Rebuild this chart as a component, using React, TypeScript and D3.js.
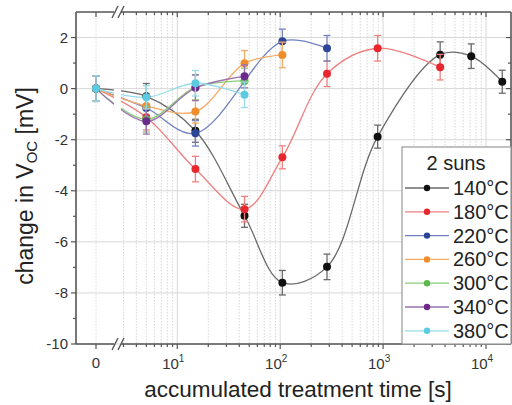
import React from "react";
import * as d3 from "d3";

// ---------- data ----------
const seriesNames = ["140°C", "180°C", "220°C", "260°C", "300°C", "340°C", "380°C"];
const markerColors = ["#111111", "#e8262e", "#2d4596", "#f08c2a", "#5cb84a", "#6b2a8c", "#5ccbe0"];
const lineColors = ["#6a6a6a", "#f07f7f", "#7080c0", "#f5aa66", "#88cc77", "#9a72b2", "#95dcea"];

const times140 = [0, 5, 15, 45, 105, 285, 885, 3585, 7185, 14385];
const vals140 = [0, -0.3, -1.65, -4.98, -7.6, -6.98, -1.88, 1.33, 1.27, 0.27];
const err140 = [0.5, 0.5, 0.45, 0.45, 0.48, 0.5, 0.45, 0.5, 0.48, 0.45];

const times180 = [0, 5, 15, 45, 105, 285, 885, 3585];
const vals180 = [0, -1.12, -3.15, -4.72, -2.69, 0.58, 1.58, 0.84];
const err180 = [0.5, 0.5, 0.5, 0.5, 0.45, 0.5, 0.5, 0.5];

const times220 = [0, 5, 15, 105, 285];
const vals220 = [0, -0.76, -1.75, 1.85, 1.58];
const err220 = [0.5, 0.45, 0.5, 0.48, 0.5];

const times260 = [0, 5, 15, 45, 105];
const vals260 = [0, -0.68, -0.9, 0.99, 1.32];
const err260 = [0.5, 0.45, 0.45, 0.5, 0.5];

const times300 = [0, 5, 15, 45];
const vals300 = [0, -1.2, 0.05, 0.3];
const err300 = [0.5, 0.5, 0.5, 0.5];

const times340 = [0, 5, 15, 45];
const vals340 = [0, -1.28, 0.03, 0.48];
const err340 = [0.5, 0.5, 0.5, 0.45];

const times380 = [0, 5, 15, 45];
const vals380 = [0, -0.34, 0.21, -0.24];
const err380 = [0.5, 0.45, 0.5, 0.5];

const allTimes = [times140, times180, times220, times260, times300, times340, times380];
const allVals = [vals140, vals180, vals220, vals260, vals300, vals340, vals380];
const allErr = [err140, err180, err220, err260, err300, err340, err380];

const yTicks = [-10, -8, -6, -4, -2, 0, 2];
const yMinorTicks = [-9, -7, -5, -3, -1, 1, 3];
const xDecades = [10, 100, 1000, 10000];
const xDecadeExp = ["1", "2", "3", "4"];
const legendTitle = "2 suns";

// ---------- layout ----------
const W = 512, H = 405;
const left = 76, right = 511, top = 12, bottom = 344;
const breakX = 118;
const gapL = 114, gapR = 121;

const yScale = d3.scaleLinear().domain([-10, 3]).range([bottom, top]);
const xLin = d3.scaleLinear().domain([-1, 1]).range([left, 116]);
const xLog = d3.scaleLog().domain([10, 10000]).range([177.3, 486]);
const xPos = (t: number) => (t === 0 ? xLin(0) : xLog(t));

const font = "'Liberation Sans', Arial, Helvetica, sans-serif";

export default function App() {
  const minors: number[] = [];
  for (let dec = 1; dec <= 10000; dec *= 10) {
    for (let m = 2; m <= 9; m++) {
      const v = dec * m;
      const x = xLog(v);
      if (x > gapR + 1 && x < right - 1) minors.push(v);
    }
  }

  const lineGen = d3
    .line<[number, number]>()
    .x((d) => xPos(d[0]))
    .y((d) => yScale(d[1]))
    .curve(d3.curveCatmullRom.alpha(0.5));

  const axisColor = "#555";

  return (
    <svg width={W} height={H} style={{ position: "absolute", left: 0, top: 0, background: "#fff" }}>
      <defs>
        <clipPath id="gapclip">
          <rect x={left} y={top} width={gapL - left} height={bottom - top} />
          <rect x={gapR} y={top} width={right - gapR} height={bottom - top} />
        </clipPath>
      </defs>
      {/* grid */}
      <g>
        {yTicks.map((v) => (
          <line key={"hg" + v} x1={left} x2={right} y1={yScale(v)} y2={yScale(v)} stroke="#d8d8d8" strokeWidth={1} />
        ))}
        <line x1={xPos(0)} x2={xPos(0)} y1={top} y2={bottom} stroke="#dcdcdc" strokeDasharray="1.5,1.5" />
        {minors.map((v) => (
          <line key={"vg" + v} x1={xLog(v)} x2={xLog(v)} y1={top} y2={bottom} stroke="#d8d8d8" strokeDasharray="1.5,1.5" />
        ))}
        {xDecades.map((v) => (
          <line key={"vd" + v} x1={xLog(v)} x2={xLog(v)} y1={top} y2={bottom} stroke="#d8d8d8" strokeWidth={1} />
        ))}
      </g>

      {/* lines */}
      <g clipPath="url(#gapclip)">
        {allTimes.map((ts, i) => {
          const pts: [number, number][] = ts.map((t, j) => [t, allVals[i][j]]);
          return <path key={"l" + i} d={lineGen(pts) || ""} fill="none" stroke={lineColors[i]} strokeWidth={1.3} />;
        })}
      </g>

      {/* error bars and markers */}
      {allTimes.map((ts, i) => (
        <g key={"s" + i}>
          {ts.map((t, j) => {
            const x = xPos(t);
            const v = allVals[i][j];
            const e = allErr[i][j];
            const y1 = yScale(v + e), y2 = yScale(v - e);
            return (
              <g key={j}>
                <line x1={x} x2={x} y1={y1} y2={y2} stroke={lineColors[i]} strokeWidth={1.3} />
                <line x1={x - 3.5} x2={x + 3.5} y1={y1} y2={y1} stroke={lineColors[i]} strokeWidth={1.3} />
                <line x1={x - 3.5} x2={x + 3.5} y1={y2} y2={y2} stroke={lineColors[i]} strokeWidth={1.3} />
              </g>
            );
          })}
          {ts.map((t, j) => (
            <circle key={"c" + j} cx={xPos(t)} cy={yScale(allVals[i][j])} r={4} fill={markerColors[i]} />
          ))}
        </g>
      ))}

      {/* frame */}
      <g stroke={axisColor} strokeWidth={1.6} fill="none">
        <line x1={left} x2={gapL} y1={bottom} y2={bottom} />
        <line x1={gapR} x2={right} y1={bottom} y2={bottom} />
        <line x1={left} x2={gapL} y1={top} y2={top} />
        <line x1={gapR} x2={right} y1={top} y2={top} />
        <line x1={left} x2={left} y1={top} y2={bottom} />
        <line x1={right} x2={right} y1={top} y2={bottom} />
      </g>
      {/* break marks */}
      <g stroke={axisColor} strokeWidth={1.4}>
        {[bottom, top].map((yy) => (
          <g key={"b" + yy}>
            <line x1={breakX - 6} x2={breakX} y1={yy + 6} y2={yy - 6} />
            <line x1={breakX} x2={breakX + 6} y1={yy + 6} y2={yy - 6} />
          </g>
        ))}
      </g>

      {/* x ticks */}
      <g stroke={axisColor} strokeWidth={1.2}>
        {[xPos(0), ...xDecades.map((v) => xLog(v))].map((x, k) => (
          <g key={"xt" + k}>
            <line x1={x} x2={x} y1={bottom} y2={bottom + 5} />
            <line x1={x} x2={x} y1={top} y2={top + 5} />
          </g>
        ))}
        {minors.map((v) => (
          <g key={"xm" + v}>
            <line x1={xLog(v)} x2={xLog(v)} y1={bottom} y2={bottom + 3} />
            <line x1={xLog(v)} x2={xLog(v)} y1={top} y2={top + 3} />
          </g>
        ))}
      </g>
      {/* y ticks */}
      <g stroke={axisColor} strokeWidth={1.2}>
        {yTicks.map((v) => (
          <g key={"yt" + v}>
            <line x1={left - 5} x2={left} y1={yScale(v)} y2={yScale(v)} />
            <line x1={right - 5} x2={right} y1={yScale(v)} y2={yScale(v)} />
          </g>
        ))}
        {yMinorTicks.filter((v) => yScale(v) > top + 1).map((v) => (
          <g key={"ym" + v}>
            <line x1={left - 3} x2={left} y1={yScale(v)} y2={yScale(v)} />
            <line x1={right - 3} x2={right} y1={yScale(v)} y2={yScale(v)} />
          </g>
        ))}
      </g>

      {/* tick labels */}
      <g fontFamily={font} fontSize={15} fill="#333">
        {yTicks.map((v) => (
          <text key={"yl" + v} x={left - 8} y={yScale(v) + 5} textAnchor="end">
            {String(v)}
          </text>
        ))}
        <text x={xPos(0)} y={368} textAnchor="middle">0</text>
        {xDecades.map((v, k) => (
          <text key={"xl" + v} x={xLog(v) - 4} y={369} textAnchor="middle">
            10
            <tspan fontSize={10} dy={-7}>{xDecadeExp[k]}</tspan>
          </text>
        ))}
      </g>

      {/* axis titles */}
      <text x={298} y={397} textAnchor="middle" fontFamily={font} fontSize={22.5} fill="#222">
        accumulated treatment time [s]
      </text>
      <text transform="translate(33,186) rotate(-90)" textAnchor="middle" fontFamily={font} fontSize={23} fill="#222">
        change in V<tspan fontSize={15} dy={4}>OC</tspan>
        <tspan dy={-4}> [mV]</tspan>
      </text>

      {/* legend */}
      <g fontFamily={font}>
        <rect x={402} y={147} width={right - 402} height={bottom - 147} fill="#fff" stroke="#999" strokeWidth={1.2} />
        <text x={456} y={170} textAnchor="middle" fontSize={20} fill="#222">{legendTitle}</text>
        {seriesNames.map((name, i) => {
          const cy = 188 + i * 23.8;
          return (
            <g key={"lg" + i}>
              <line x1={405} x2={449} y1={cy} y2={cy} stroke={lineColors[i]} strokeWidth={1.3} />
              <circle cx={427} cy={cy} r={3.2} fill={markerColors[i]} />
              <text x={453} y={cy + 7} fontSize={20} fill="#222">{name}</text>
            </g>
          );
        })}
      </g>
    </svg>
  );
}
